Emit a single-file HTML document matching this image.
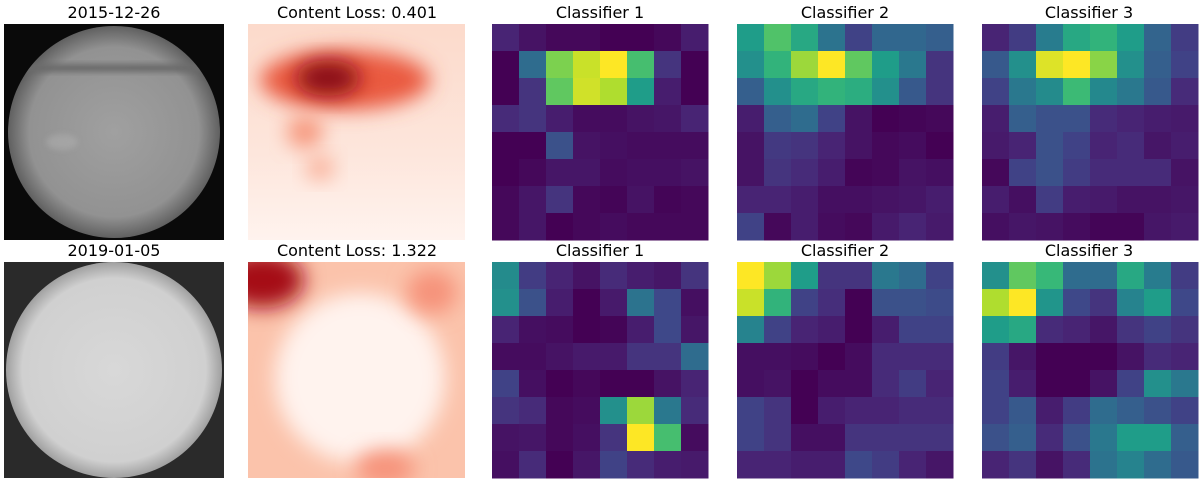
<!DOCTYPE html>
<html><head><meta charset="utf-8"><style>
body{margin:0;background:#fff;width:1200px;height:484px;overflow:hidden;font-family:"DejaVu Sans","Liberation Sans",sans-serif}
svg{display:block}
</style></head><body>
<svg id="fig" width="1200" height="484" xmlns="http://www.w3.org/2000/svg">
<defs>
<filter id="blur8" x="-50%" y="-50%" width="200%" height="200%"><feGaussianBlur stdDeviation="10"/></filter>
<filter id="blur3" x="-20%" y="-50%" width="140%" height="200%"><feGaussianBlur stdDeviation="3"/></filter>
<radialGradient id="sun1" cx="50%" cy="50%" r="50%"><stop offset="0" stop-color="#a0a0a0"/><stop offset="0.8" stop-color="#929292"/><stop offset="1" stop-color="#606060"/></radialGradient>
<radialGradient id="sun2" cx="50%" cy="50%" r="50%"><stop offset="0" stop-color="#d8d8d8"/><stop offset="0.85" stop-color="#d0d0d0"/><stop offset="1" stop-color="#a0a0a0"/></radialGradient>
<linearGradient id="bg1" x1="0" y1="0" x2="0" y2="1"><stop offset="0" stop-color="#fcdacb"/><stop offset="0.6" stop-color="#fde6dc"/><stop offset="1" stop-color="#fff3ee"/></linearGradient>
<clipPath id="c1"><rect x="248" y="24" width="217" height="216"/></clipPath>
<clipPath id="c2"><rect x="248" y="262" width="217" height="216"/></clipPath>
<clipPath id="s1"><circle cx="114" cy="132" r="106"/></clipPath>
</defs>
<g font-size="16" text-anchor="middle" fill="#000">
<text x="114" y="18">2015-12-26</text>
<text x="357" y="18">Content Loss: 0.401</text>
<text x="600" y="18">Classifier 1</text>
<text x="845" y="18">Classifier 2</text>
<text x="1089" y="18">Classifier 3</text>
<text x="114" y="256">2019-01-05</text>
<text x="357" y="256">Content Loss: 1.322</text>
<text x="600" y="256">Classifier 1</text>
<text x="845" y="256">Classifier 2</text>
<text x="1089" y="256">Classifier 3</text>
</g>
<g>
<rect x="4" y="24" width="220" height="216" fill="#0a0a0a"/>
<circle cx="114" cy="132" r="106" fill="url(#sun1)"/>
<g clip-path="url(#s1)"><rect x="0" y="64" width="230" height="8" fill="#6a6a6a" filter="url(#blur3)"/>
<ellipse cx="62" cy="142" rx="16" ry="8" fill="#b8b8b8" opacity="0.4" filter="url(#blur3)"/></g>
</g>
<g>
<rect x="4" y="262" width="220" height="216" fill="#2a2a2a"/>
<circle cx="114" cy="370" r="108" fill="url(#sun2)"/>
</g>
<g clip-path="url(#c1)">
<rect x="248" y="24" width="217" height="216" fill="url(#bg1)"/>
<ellipse cx="345" cy="80" rx="85" ry="30" fill="#ea5a40" filter="url(#blur8)"/>
<ellipse cx="328" cy="78" rx="32" ry="18" fill="#8a0a12" filter="url(#blur8)"/>
<ellipse cx="305" cy="132" rx="18" ry="16" fill="#f6957a" filter="url(#blur8)"/>
<ellipse cx="320" cy="168" rx="14" ry="12" fill="#f9ad95" filter="url(#blur8)"/>
</g>
<g clip-path="url(#c2)">
<rect x="248" y="262" width="217" height="216" fill="#fbc3ab"/>
<ellipse cx="360" cy="378" rx="85" ry="85" fill="#fff3ee" filter="url(#blur8)"/>
<ellipse cx="262" cy="280" rx="42" ry="28" fill="#a50f15" filter="url(#blur8)"/>
<ellipse cx="432" cy="292" rx="25" ry="22" fill="#f6937a" filter="url(#blur8)"/>
<ellipse cx="385" cy="468" rx="30" ry="18" fill="#f6937a" filter="url(#blur8)"/>
</g>
<g id="heatmaps"></g>
</svg>
<script>
const topC1=[[.1,.05,.02,.02,0,0,.02,.08],[0,.35,.8,.92,1,.7,.15,0],[0,.15,.75,.93,.88,.55,.08,0],[.12,.15,.08,.03,.03,.05,.06,.1],[0,0,.25,.05,.04,.03,.03,.03],[0,.02,.06,.06,.03,.04,.04,.05],[.02,.06,.15,.02,.01,.05,.01,.02],[.02,.06,0,.02,.03,.02,.02,.02]];
const topC2=[[.55,.72,.6,.38,.2,.33,.33,.3],[.5,.65,.85,1,.75,.55,.4,.15],[.3,.5,.6,.65,.62,.5,.28,.15],[.08,.3,.35,.2,.05,0,.01,.02],[.05,.17,.15,.1,.05,.02,.03,0],[.05,.15,.12,.08,.01,.02,.05,.04],[.1,.1,.08,.04,.04,.05,.06,.08],[.2,.02,.08,.03,.02,.07,.1,.07]];
const topC3=[[.1,.18,.42,.6,.65,.55,.32,.18],[.28,.5,.95,1,.82,.5,.3,.2],[.2,.4,.48,.68,.47,.4,.28,.12],[.08,.3,.25,.25,.12,.1,.08,.07],[.07,.1,.25,.2,.1,.12,.06,.08],[.02,.2,.25,.18,.12,.12,.12,.05],[.08,.04,.18,.08,.07,.05,.05,.06],[.04,.06,.05,.03,.01,.01,.06,.07]];
const botC1=[[.48,.18,.1,.05,.12,.08,.06,.15],[.5,.25,.08,0,.07,.38,.22,.04],[.1,.04,.03,0,.01,.08,.22,.06],[.03,.03,.05,.07,.07,.15,.15,.35],[.2,.04,0,.02,0,0,.05,.1],[.15,.12,.02,.03,.5,.85,.4,.12],[.05,.06,.02,.04,.15,1,.7,.03],[.04,.12,0,.06,.2,.12,.08,.07]];
const botC2=[[1,.85,.55,.15,.15,.4,.35,.2],[.92,.65,.2,.13,0,.25,.25,.23],[.45,.2,.1,.08,0,.08,.2,.2],[.04,.04,.03,0,.03,.12,.12,.12],[.04,.05,0,.03,.03,.12,.18,.1],[.2,.15,0,.08,.1,.1,.12,.12],[.2,.15,.04,.04,.15,.15,.15,.15],[.1,.1,.08,.08,.22,.18,.1,.06]];
const botC3=[[.5,.75,.67,.35,.35,.6,.42,.18],[.88,1,.52,.22,.15,.45,.55,.22],[.55,.6,.12,.1,.06,.15,.2,.15],[.18,.06,0,0,0,.05,.12,.1],[.2,.08,0,0,.05,.2,.5,.4],[.2,.28,.08,.18,.35,.3,.25,.2],[.25,.3,.12,.25,.4,.55,.55,.3],[.1,.15,.05,.12,.38,.45,.35,.28]];
const panelNames=['heatmap-classifier1-top','heatmap-classifier2-top','heatmap-classifier3-top','heatmap-classifier1-bottom','heatmap-classifier2-bottom','heatmap-classifier3-bottom'];
const panelData=[topC1,topC2,topC3,botC1,botC2,botC3];
const stops=[[68,1,84],[72,40,120],[62,73,137],[49,104,142],[38,130,142],[31,158,137],[53,183,121],[110,206,88],[181,222,43],[253,231,37]];
function viridis(v){v=Math.max(0,Math.min(1,v));const f=v*(stops.length-1),i=Math.min(stops.length-2,Math.floor(f)),t=f-i;const c=stops[i].map((a,k)=>Math.round(a+(stops[i+1][k]-a)*t));return `rgb(${c[0]},${c[1]},${c[2]})`;}
const px=[492,737,982],py=[24,262],W=216,H=216;
const g=document.getElementById('heatmaps');
const NS='http://www.w3.org/2000/svg';
panelData.forEach((d,p)=>{
  const grp=document.createElementNS(NS,'g');
  
  
  const x0=px[p%3],y0=py[Math.floor(p/3)];
  const rows=d.length,cols=d[0].length,cw=W/cols,ch=H/rows;
  d.forEach((row,r)=>row.forEach((v,c)=>{
    const rc=document.createElementNS(NS,'rect');
    rc.setAttribute('x',x0+c*cw);rc.setAttribute('y',y0+r*ch);
    rc.setAttribute('width',cw+0.5);rc.setAttribute('height',ch+0.5);
    rc.setAttribute('fill',viridis(v));
    
    
    grp.appendChild(rc);
  }));
  g.appendChild(grp);
});
</script>
</body></html>
